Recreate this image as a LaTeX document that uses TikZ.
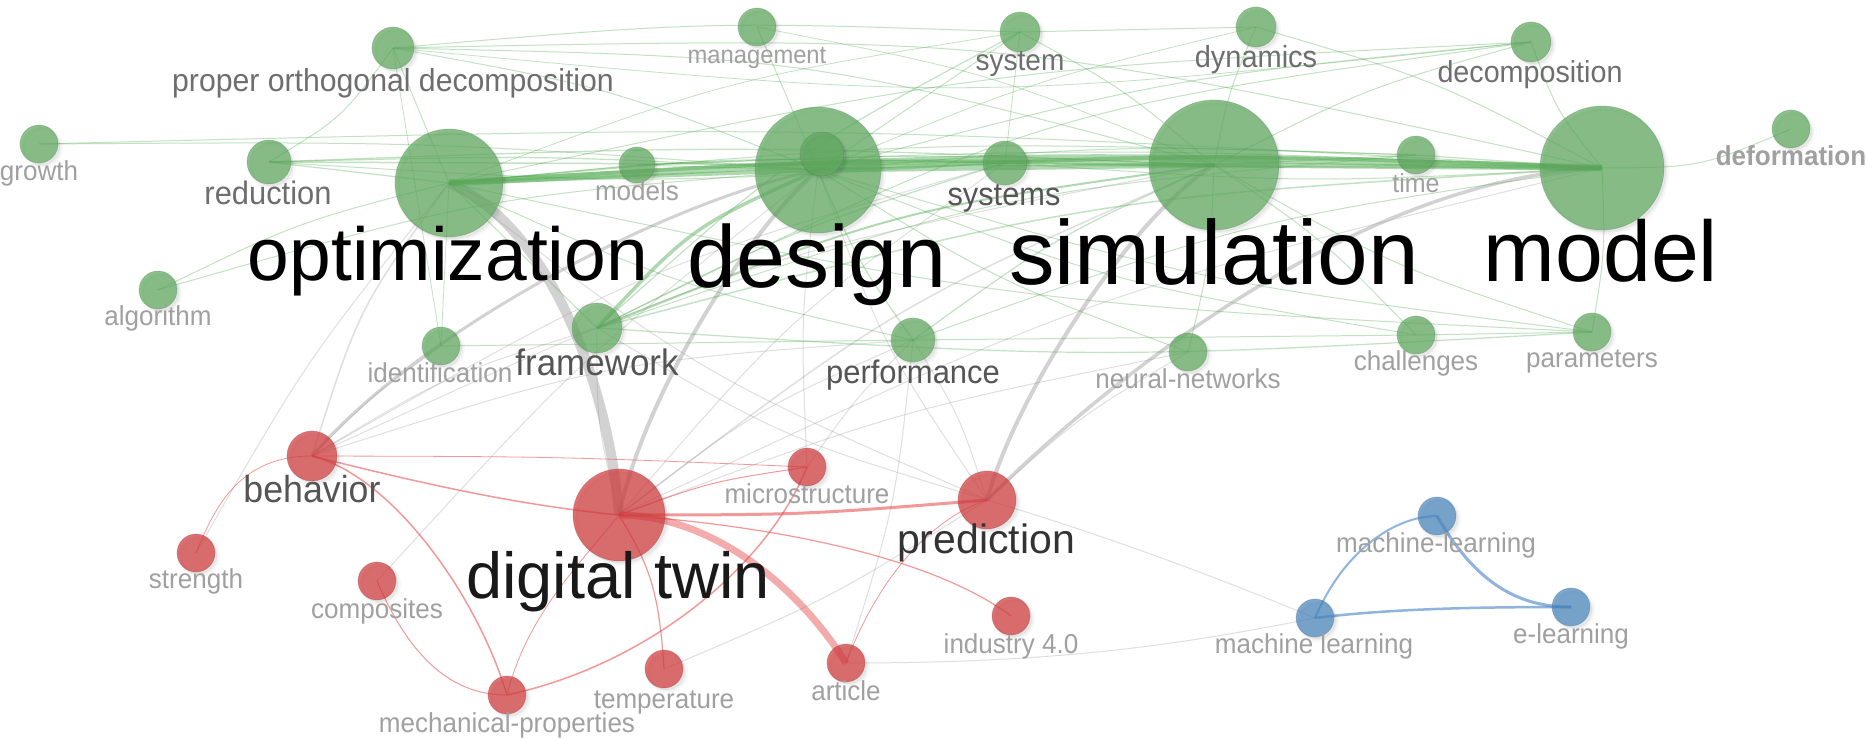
\documentclass[tikz,border=0pt]{standalone}
\usepackage{fontspec}
\setmainfont{Liberation Sans}
\newfontfamily\lblfont{Liberation Sans}[FakeStretch=0.95]
\usetikzlibrary{calc}
\pgfdeclarelayer{edges}
\pgfsetlayers{edges,main}
\definecolor{ngreen}{RGB}{96,170,96}
\definecolor{nred}{RGB}{210,60,62}
\definecolor{nblue}{RGB}{75,135,190}
\definecolor{egreen}{RGB}{80,170,80}
\definecolor{ered}{RGB}{230,70,70}
\definecolor{egrey}{RGB}{150,150,150}
\definecolor{eblue}{RGB}{70,130,200}
\definecolor{tlight}{RGB}{160,160,160}
\definecolor{tmid}{RGB}{110,110,110}
\definecolor{tdark}{RGB}{85,85,85}
\tikzset{
  shad/.style={preaction={fill=black,fill opacity=0.035,draw=black,draw opacity=0.03,line width=4,transform canvas={shift={(3,3)}}},
               preaction={fill=black,fill opacity=0.05,transform canvas={shift={(2,2)}}}},
  gN/.style={circle,inner sep=0,shad,fill=ngreen,fill opacity=0.72,draw=ngreen!70!black,draw opacity=0.25,line width=0.8},
  rN/.style={circle,inner sep=0,shad,fill=nred,fill opacity=0.72,draw=nred!70!black,draw opacity=0.25,line width=0.8},
  bN/.style={circle,inner sep=0,shad,fill=nblue,fill opacity=0.72,draw=nblue!70!black,draw opacity=0.25,line width=0.8},
  ge/.style={draw=egreen,draw opacity=0.34,line width=#1},ge/.default=1,
  se/.style={draw=egreen,draw opacity=0.45,line width=#1},
  re/.style={draw=ered,draw opacity=0.55,line width=#1},re/.default=1,
  gre/.style={draw=egrey,draw opacity=0.3,line width=#1},gre/.default=1,
  hg/.style={draw=egrey,draw opacity=0.42,line width=#1},hg/.default=1,
  be/.style={draw=eblue,draw opacity=0.6,line width=#1},be/.default=1,
  lbl/.style={font=\lblfont\fontsize{#1}{#1}\selectfont,anchor=base,inner sep=0,text=tlight},
  big/.style={font=\fontsize{#1}{#1}\selectfont,anchor=base,inner sep=0,text=black},
}
% bent edge: style, from, to, bend fraction
\newcommand\bedge[4]{\draw[#1] (#2.center) .. controls ($(#2.center)!0.5!(#3.center)!#4!90:(#3.center)$) .. (#3.center);}
\begin{document}
\begin{tikzpicture}[x=1pt,y=-1pt]
\useasboundingbox (0,0) rectangle (1866,739);
\begin{pgfonlayer}{edges}
\fill[white] (0,0) rectangle (1866,739);
\end{pgfonlayer}
% ---------------- nodes ----------------
% green
\node[gN,minimum size=108] (opt) at (449,183) {};
\node[gN,minimum size=126] (des) at (818,170) {};
\node[gN,minimum size=130] (sim) at (1214,165) {};
\node[gN,minimum size=124] (mod) at (1602,168) {};
\node[gN,minimum size=42] (pod) at (393,48) {};
\node[gN,minimum size=38] (mgmt) at (757,27) {};
\node[gN,minimum size=40] (sys) at (1020,32) {};
\node[gN,minimum size=40] (dyn) at (1256,27) {};
\node[gN,minimum size=40] (dec) at (1531,42) {};
\node[gN,minimum size=38] (def) at (1791,129) {};
\node[gN,minimum size=38] (gro) at (39,144) {};
\node[gN,minimum size=44] (red) at (269,162) {};
\node[gN,minimum size=36] (mdl) at (637,165) {};
\node[gN,minimum size=44] (syss) at (1005,163) {};
\node[gN,minimum size=38] (time) at (1416,155) {};
\node[gN,minimum size=38] (alg) at (158,290) {};
\node[gN,minimum size=38] (ident) at (441,346) {};
\node[gN,minimum size=50] (fw) at (597,328) {};
\node[gN,minimum size=44] (perf) at (913,340) {};
\node[gN,minimum size=38] (nn) at (1188,352) {};
\node[gN,minimum size=38] (chal) at (1416,335) {};
\node[gN,minimum size=38] (par) at (1592,332) {};
\node[gN,minimum size=44] (inn) at (822,154) {};
% red
\node[rN,minimum size=50] (beh) at (312,456) {};
\node[rN,minimum size=38] (micro) at (807,467) {};
\node[rN,minimum size=58] (pred) at (987,500) {};
\node[rN,minimum size=92] (dt) at (619,515) {};
\node[rN,minimum size=38] (str) at (196,553) {};
\node[rN,minimum size=38] (comp) at (377,581) {};
\node[rN,minimum size=38] (mech) at (507,695) {};
\node[rN,minimum size=38] (temp) at (664,669) {};
\node[rN,minimum size=38] (art) at (846,663) {};
\node[rN,minimum size=38] (ind) at (1011,616) {};
% blue
\node[bN,minimum size=38] (mll) at (1437,516) {};
\node[bN,minimum size=38] (el) at (1571,607) {};
\node[bN,minimum size=38] (ml) at (1315,618) {};
% ---------------- edges ----------------
\begin{pgfonlayer}{edges}
% grey inter-cluster
\draw[hg=10] (opt.center) .. controls +(100,42) and +(-10,-130) .. (dt.center);
\draw[hg=4] (dt.center) .. controls +(25,-120) and +(-70,60) .. (des.center);
\draw[hg=4] (pred.center) .. controls +(30,-110) and +(-80,50) .. (sim.center);
\draw[hg=3.5] (pred.center) .. controls +(110,-110) and +(-250,10) .. (mod.center);
\draw[hg=3] (beh.center) .. controls +(108,-126) and +(-150,30) .. (des.center);
\bedge{gre=1.5}{beh}{opt}{0.16}
\bedge{gre}{beh}{fw}{0.12}
\bedge{gre}{beh}{perf}{0.12}
\bedge{gre}{beh}{sim}{0.12}
\bedge{gre}{beh}{syss}{0.12}
\bedge{gre}{beh}{ident}{0.08}
\bedge{gre}{dt}{fw}{0.12}
\bedge{gre}{dt}{perf}{0.12}
\bedge{gre}{dt}{syss}{0.12}
\bedge{gre=1.5}{dt}{sim}{0.12}
\bedge{gre}{dt}{mod}{0.1}
\bedge{gre}{dt}{nn}{0.08}
\bedge{gre}{pred}{des}{0.12}
\bedge{gre}{pred}{perf}{-0.12}
\bedge{gre}{pred}{nn}{0.1}
\bedge{gre}{pred}{fw}{0.12}
\bedge{gre}{pred}{opt}{0.12}
\bedge{gre}{comp}{des}{0.08}
\bedge{gre}{str}{opt}{0.08}
\bedge{gre}{temp}{pred}{-0.08}
\bedge{gre}{micro}{perf}{0.08}
\bedge{gre}{micro}{des}{0.08}
\bedge{gre}{art}{perf}{-0.1}
\draw[gre] (ml.center) .. controls +(-120,-50) and +(100,30) .. (pred.center);
\draw[gre] (art.center) .. controls +(200,0) and +(-150,30) .. (ml.center);
% green cluster
\bedge{se=7}{opt}{mod}{0.04}
\bedge{se=4}{opt}{sim}{0.04}
\draw[se=4] (opt.center) -- (des.center);
\draw[se=5] (des.center) -- (sim.center);
\bedge{se=4}{des}{mod}{0.04}
\draw[se=5] (sim.center) -- (mod.center);
\bedge{se=3.5}{fw}{des}{0.2}
\bedge{se=2}{fw}{sim}{0.12}
\bedge{ge=1.5}{fw}{mod}{0.1}
\bedge{ge=1.2}{fw}{syss}{0.08}
\bedge{ge=1.2}{fw}{par}{-0.06}
\bedge{ge}{fw}{dec}{0.16}
\bedge{ge}{fw}{time}{0.12}
\draw[ge] (fw.center) -- (opt.center);
\draw[ge=1.5] (red.center) -- (mod.center);
\bedge{ge=1.2}{red}{des}{0.04}
\bedge{ge=1.2}{red}{sim}{0.04}
\draw[ge=1.2] (red.center) -- (opt.center);
\bedge{ge}{red}{syss}{-0.06}
\bedge{ge}{gro}{des}{0.04}
\bedge{ge}{gro}{mod}{0.04}
\bedge{ge}{pod}{red}{0.2}
\draw[ge] (pod.center) -- (opt.center);
\bedge{ge}{pod}{sys}{0.06}
\bedge{ge}{pod}{sim}{0.12}
\bedge{ge}{pod}{mod}{0.12}
\bedge{ge}{pod}{des}{0.1}
\draw[ge=0.8] (pod.center) -- (ident.center);
\bedge{ge=0.8}{pod}{dec}{-0.1}
\draw[ge] (mgmt.center) -- (des.center);
\bedge{ge=0.8}{mgmt}{sim}{0.1}
\draw[ge] (sys.center) -- (dyn.center);
\bedge{ge=1.2}{sys}{fw}{-0.12}
\draw[ge] (sys.center) -- (des.center);
\bedge{ge}{sys}{sim}{0.1}
\draw[ge=0.8] (sys.center) -- (syss.center);
\bedge{ge=0.8}{sys}{opt}{-0.1}
\bedge{ge}{dyn}{sim}{-0.1}
\bedge{ge}{dyn}{mod}{0.1}
\bedge{ge=0.8}{dyn}{des}{-0.08}
\bedge{ge}{dec}{des}{-0.08}
\bedge{ge}{dec}{opt}{-0.08}
\bedge{ge}{dec}{sim}{-0.1}
\bedge{ge}{dec}{mod}{-0.16}
\bedge{ge}{def}{mod}{0.2}
\draw[ge] (syss.center) -- (des.center);
\draw[ge=1.5] (syss.center) -- (sim.center);
\bedge{ge}{syss}{mod}{-0.06}
\bedge{ge}{syss}{opt}{-0.06}
\draw[ge=1.2] (time.center) -- (sim.center);
\draw[ge=1.2] (time.center) -- (mod.center);
\bedge{ge}{time}{des}{-0.06}
\bedge{ge}{time}{opt}{-0.06}
\draw[ge] (mdl.center) -- (des.center);
\bedge{ge}{mdl}{sim}{0.04}
\bedge{ge}{mdl}{mod}{0.04}
\draw[ge] (mdl.center) -- (opt.center);
\bedge{ge}{alg}{opt}{0.1}
\bedge{ge}{alg}{des}{0.1}
\draw[ge] (ident.center) -- (perf.center);
\draw[ge=0.8] (ident.center) -- (opt.center);
\bedge{ge=1.2}{perf}{des}{0.1}
\bedge{ge=1.2}{perf}{sim}{0.1}
\bedge{ge}{perf}{mod}{0.1}
\bedge{ge}{perf}{opt}{0.1}
\draw[ge] (perf.center) -- (chal.center);
\draw[ge] (chal.center) -- (par.center);
\bedge{ge}{chal}{sim}{-0.1}
\bedge{ge}{chal}{des}{0.1}
\bedge{ge}{nn}{sim}{-0.1}
\bedge{ge}{nn}{des}{0.1}
\bedge{ge}{par}{mod}{-0.1}
\bedge{ge}{par}{sim}{0.1}
\bedge{ge}{par}{des}{0.08}
\bedge{ge}{par}{opt}{0.08}
% red cluster
\draw[re=7,draw opacity=0.45] (dt.center) .. controls +(90,0) and +(-50,-80) .. (art.center);
\bedge{re=3}{dt}{pred}{-0.04}
\draw[re=1.2] (dt.center) .. controls +(150,10) and +(-80,-60) .. (ind.center);
\bedge{re}{dt}{micro}{0.1}
\draw[re=1.5] (dt.center) .. controls +(-100,-10) and +(120,30) .. (beh.center);
\draw[re=1.2] (dt.center) .. controls +(30,50) and +(-5,-80) .. (temp.center);
\draw[re=0.8] (dt.center) .. controls +(-40,50) and +(20,-80) .. (mech.center);
\draw[re=1.5] (beh.center) .. controls +(80,20) and +(-30,-100) .. (mech.center);
\bedge{re=0.8}{beh}{micro}{0.02}
\draw[re=0.8] (beh.center) .. controls +(-70,0) and +(20,-50) .. (str.center);
\draw[re] (comp.center) .. controls +(30,70) and +(-60,0) .. (mech.center);
\draw[re=1.5] (mech.center) .. controls +(140,-30) and +(-40,100) .. (micro.center);
\draw[re=0.8] (art.center) .. controls +(30,-80) and +(-60,20) .. (pred.center);
% blue cluster
\draw[be=2] (ml.center) .. controls +(30,-70) and +(-40,0) .. (mll.center);
\draw[be=3] (mll.center) .. controls +(40,70) and +(-50,0) .. (el.center);
\draw[be=2.5] (ml.center) .. controls +(80,-10) and +(-80,0) .. (el.center);
\end{pgfonlayer}
% ---------------- labels ----------------
\node[big=75] (optL) at (448,280) {optimization};
\node[big=88] (desL) at (817,287) {design};
\node[big=91] (simL) at (1214,284) {simulation};
\node[big=86] (modL) at (1601,281) {model};
\node[big=65,text=black!90] (dtL) at (618,598) {digital twin};
\node[big=41,text=black!80] (predL) at (986,553) {prediction};
\node[lbl=31.8,text=tmid] (podL) at (393,91) {proper orthogonal decomposition};
\node[lbl=25] (mgmtL) at (757,63) {management};
\node[lbl=29.5,text=tmid] (sysL) at (1020,70) {system};
\node[lbl=30.5,text=tmid] (dynL) at (1256,67) {dynamics};
\node[lbl=30.2,text=tmid] (decL) at (1530,82) {decomposition};
\node[lbl=27.4,font=\lblfont\bfseries\fontsize{27.4}{27.4}\selectfont] (defL) at (1791,165) {deformation};
\node[lbl=27.4] (groL) at (39,180) {growth};
\node[lbl=32.5,text=tmid] (redL) at (268,204) {reduction};
\node[lbl=27.4] (mdlL) at (637,200) {models};
\node[lbl=32.4,text=tdark] (syssL) at (1004,205) {systems};
\node[lbl=26.3] (timeL) at (1416,192) {time};
\node[lbl=27.4] (algL) at (158,325) {algorithm};
\node[lbl=27.4] (identL) at (440,382) {identification};
\node[lbl=36.8,text=tdark] (fwL) at (597,375) {framework};
\node[lbl=32.6,text=tdark] (perfL) at (913,383) {performance};
\node[lbl=27.4] (nnL) at (1188,388) {neural-networks};
\node[lbl=27.4] (chalL) at (1416,370) {challenges};
\node[lbl=27.4] (parL) at (1592,367) {parameters};
\node[lbl=37.6,text=tdark] (behL) at (312,502) {behavior};
\node[lbl=27.4] (microL) at (807,503) {microstructure};
\node[lbl=27.4] (strL) at (196,588) {strength};
\node[lbl=27.4] (compL) at (377,618) {composites};
\node[lbl=27.4] (mechL) at (507,732) {mechanical-properties};
\node[lbl=27.4] (tempL) at (664,708) {temperature};
\node[lbl=27.4] (artL) at (846,700) {article};
\node[lbl=27.4] (indL) at (1011,653) {industry 4.0};
\node[lbl=27.4] (mllL) at (1436,552) {machine-learning};
\node[lbl=27.4] (elL) at (1571,643) {e-learning};
\node[lbl=27.4] (mlL) at (1314,653) {machine learning};
\end{tikzpicture}
\end{document}
